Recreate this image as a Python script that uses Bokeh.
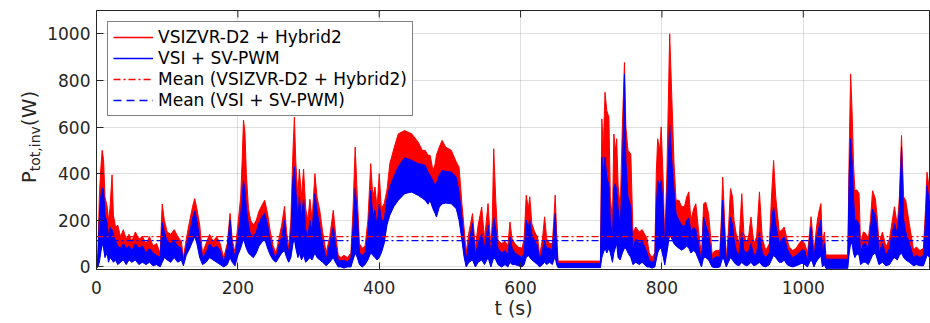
from bokeh.plotting import figure
from bokeh.layouts import row
from bokeh.models import (Range1d, FixedTicker, Legend, LegendItem,
                          ColumnDataSource, Div)
from bokeh.embed import file_html
from bokeh.resources import INLINE

# ---- data (envelopes) ----
t = [0, 2, 4, 6, 8, 10, 12, 15, 17, 19,
     22, 24, 27, 30, 34, 38, 42, 46, 50, 55,
     60, 65, 70, 75, 80, 85, 90, 93, 96, 100,
     105, 110, 115, 120, 123, 127, 132, 136, 139, 142,
     146, 150, 155, 160, 165, 170, 175, 180, 185, 189,
     192, 196, 200, 204, 206, 208, 210, 212, 215, 218,
     222, 226, 230, 235, 238, 242, 246, 250, 254, 258,
     262, 266, 269, 272, 275, 278, 280, 282, 285, 287,
     290, 293, 296, 299, 302, 305, 309, 312, 316, 320,
     325, 330, 335, 338, 342, 346, 350, 355, 360, 363,
     366, 369, 372, 376, 380, 384, 388, 391, 394, 397,
     400, 403, 407, 411, 415, 421, 427, 436, 441, 446,
     455, 461, 465, 469, 472, 476, 479, 481, 485, 489,
     494, 502, 509, 513, 517, 520, 523, 527, 532, 536,
     540, 545, 549, 554, 558, 560, 562, 565, 568, 573,
     578, 582, 585, 588, 592, 597, 602, 605, 608, 611,
     613, 616, 620, 624, 627, 631, 634, 637, 641, 645,
     647, 649, 651, 653, 713, 715, 717, 719.5, 722, 725,
     727, 730, 732, 734, 736, 738, 741, 744, 747, 749,
     752, 756, 759, 763, 768, 772, 775, 779, 782, 786,
     790, 792, 794, 797, 799, 802, 804, 807, 809, 811,
     814, 817, 820, 824, 828, 832, 835, 838, 841, 845,
     848, 852, 856, 859, 862, 866, 871, 876, 882, 884,
     886, 888, 891, 894, 897, 900, 902, 905, 909, 913,
     916, 920, 923, 926, 930, 934, 938, 942, 947, 952,
     955, 958, 961, 966, 970, 973, 977, 980, 985, 990,
     994, 998, 1002, 1006, 1009, 1011, 1013, 1015, 1018, 1020,
     1023, 1025, 1027, 1030, 1032, 1063, 1065, 1067, 1069, 1071,
     1073, 1076, 1079, 1081, 1085, 1088, 1092, 1095, 1098, 1102,
     1105, 1107, 1112, 1117, 1122, 1126, 1129, 1133, 1136, 1139,
     1142, 1145, 1150, 1156, 1160, 1165, 1170, 1173, 1175, 1180]

red_hi = [10, 60, 300, 420, 500, 460, 300, 260, 200, 250,
          395, 220, 170, 180, 130, 160, 120, 140, 110, 150,
          120, 130, 100, 130, 90, 100, 60, 270, 200, 150,
          140, 160, 130, 110, 40, 120, 200, 260, 293, 250,
          180, 60, 100, 140, 110, 130, 100, 40, 100, 230,
          120, 60, 180, 300, 450, 630, 580, 400, 250, 200,
          180, 200, 240, 270, 286, 230, 150, 90, 60, 120,
          180, 260, 150, 80, 200, 500, 643, 450, 300, 420,
          300, 420, 250, 200, 290, 200, 400, 300, 240, 150,
          60, 130, 243, 150, 50, 40, 50, 40, 60, 250,
          514, 300, 100, 80, 90, 200, 443, 300, 343, 250,
          400, 250, 272, 330, 443, 510, 571, 585, 578, 571,
          536, 500, 500, 479, 479, 414, 440, 480, 514, 543,
          514, 500, 450, 428, 272, 171, 60, 150, 229, 80,
          180, 257, 120, 272, 80, 200, 507, 280, 115, 100,
          110, 90, 193, 120, 100, 85, 80, 120, 308, 250,
          301, 185, 150, 128, 50, 120, 215, 120, 101, 100,
          200, 308, 150, 25, 25, 635, 500, 749, 670, 642,
          300, 200, 570, 500, 550, 350, 250, 600, 877, 600,
          500, 484, 150, 171, 150, 160, 144, 120, 60, 40,
          60, 400, 550, 500, 600, 350, 100, 400, 700, 1000,
          728, 450, 286, 286, 257, 260, 300, 322, 200, 250,
          271, 150, 45, 271, 278, 229, 57, 71, 71, 200,
          386, 250, 30, 150, 336, 300, 200, 143, 100, 314,
          143, 100, 140, 214, 100, 130, 322, 120, 71, 100,
          300, 457, 300, 150, 160, 171, 120, 86, 71, 80,
          100, 115, 100, 60, 150, 215, 150, 60, 150, 200,
          250, 272, 100, 150, 51, 51, 500, 828, 671, 450,
          327, 330, 314, 100, 150, 145, 120, 200, 327, 293,
          200, 100, 150, 86, 120, 200, 258, 180, 300, 564,
          300, 285, 186, 73, 86, 70, 80, 250, 406, 300]

blue_hi = [5, 40, 200, 300, 340, 330, 220, 190, 120, 170,
           160, 140, 110, 90, 80, 100, 80, 90, 70, 100,
           80, 90, 60, 80, 60, 50, 40, 190, 150, 110,
           100, 110, 90, 80, 20, 90, 150, 210, 240, 200,
           120, 40, 60, 100, 80, 90, 70, 20, 80, 200,
           90, 40, 130, 220, 300, 370, 330, 250, 180, 140,
           130, 150, 190, 220, 229, 180, 110, 60, 40, 90,
           130, 200, 100, 60, 140, 380, 430, 330, 200, 300,
           220, 290, 160, 130, 200, 150, 314, 240, 170, 100,
           30, 100, 171, 100, 30, 25, 30, 20, 40, 170,
           336, 220, 60, 50, 60, 140, 328, 220, 243, 170,
           270, 200, 200, 290, 343, 390, 430, 468, 463, 457,
           443, 440, 436, 407, 393, 370, 350, 360, 393, 414,
           410, 407, 386, 321, 214, 115, 30, 100, 186, 50,
           100, 143, 80, 180, 50, 140, 214, 160, 80, 60,
           70, 50, 129, 80, 60, 50, 40, 60, 201, 170,
           200, 140, 110, 90, 30, 70, 115, 80, 80, 70,
           150, 229, 100, 15, 15, 471, 400, 471, 384, 350,
           200, 120, 340, 357, 330, 250, 170, 400, 828, 450,
           300, 257, 80, 120, 100, 110, 90, 60, 30, 20,
           30, 250, 370, 350, 372, 250, 60, 300, 450, 607,
           450, 330, 229, 200, 180, 172, 200, 210, 150, 170,
           160, 90, 20, 214, 180, 140, 30, 43, 43, 150,
           286, 180, 10, 100, 214, 180, 120, 70, 50, 150,
           70, 60, 70, 100, 50, 60, 150, 60, 40, 60,
           200, 257, 180, 100, 120, 129, 80, 60, 40, 50,
           60, 73, 70, 20, 120, 172, 100, 30, 120, 140,
           180, 201, 60, 100, 33, 33, 400, 550, 450, 300,
           200, 200, 180, 60, 100, 100, 80, 160, 248, 220,
           150, 60, 100, 50, 80, 150, 186, 140, 250, 514,
           200, 150, 100, 40, 50, 40, 50, 200, 350, 250]

low = [-5, 0, 20, 60, 100, 80, 40, 60, 20, 40,
       30, 20, 30, 10, 20, 30, 10, 30, 20, 30,
       10, 20, 10, 20, 5, 10, 0, 20, 40, 30,
       20, 40, 20, 30, 5, 50, 80, 110, 130, 100,
       40, 10, 20, 40, 30, 20, 10, 0, 10, 40,
       20, 5, 50, 80, 100, 120, 100, 80, 60, 50,
       40, 60, 90, 110, 120, 80, 50, 30, 20, 40,
       60, 70, 40, 20, 40, 100, 120, 80, 40, 60,
       30, 50, 20, 30, 40, 30, 60, 40, 30, 20,
       5, 20, 40, 20, 0, 0, -5, 0, 0, 30,
       60, 40, 10, 0, 10, 30, 60, 50, 40, 30,
       40, 60, 100, 180, 222, 260, 286, 314, 318, 321,
       307, 295, 286, 269, 285, 250, 230, 214, 257, 270,
       274, 271, 250, 200, 115, 44, 0, 20, 30, 0,
       20, 30, 10, 40, 0, 20, 40, 30, 10, 0,
       10, 0, 20, 10, 10, 5, 0, 10, 40, 50,
       40, 30, 20, 10, 0, 10, 20, 10, 20, 10,
       30, 40, 10, -3, -3, 40, 60, 80, 60, 80,
       60, 20, 60, 80, 100, 40, 30, 60, 80, 80,
       60, 40, 10, 20, 10, 20, 10, 0, 0, -5,
       0, 30, 60, 80, 80, 40, 8, 60, 100, 140,
       120, 100, 90, 80, 72, 80, 90, 80, 60, 70,
       60, 30, 0, 40, 40, 30, 0, -3, 0, 20,
       40, 30, 0, 20, 40, 30, 20, 10, 5, 20,
       10, 5, 10, 20, 5, 10, 20, 5, 0, 10,
       30, 50, 40, 20, 20, 30, 10, 5, 0, 5,
       10, 16, 10, 0, 20, 30, 20, 0, 20, 30,
       40, 50, 0, 10, -6, -6, 60, 100, 100, 60,
       40, 57, 50, 10, 20, 20, 10, 30, 50, 60,
       30, 10, 20, 5, 10, 30, 40, 30, 50, 60,
       40, 30, 20, 5, 10, 5, 5, 30, 50, 40]

mean_red = 130
mean_blue = 113

x_ticks = [0, 200, 400, 600, 800, 1000]
y_ticks = [0, 200, 400, 600, 800, 1000]

x_title = "t (s)"
y_title_main, y_title_sub, y_title_unit = "P", "tot,inv", "(W)"

labels = ["VSIZVR-D2 + Hybrid2", "VSI + SV-PWM",
          "Mean (VSIZVR-D2 + Hybrid2)", "Mean (VSI + SV-PWM)"]

RED = "#ff0000"
BLUE = "#0000ff"
DARK = "#262626"
FONT = "DejaVu Sans"
NAN = float("nan")
LEFT_W = 44
X_MIN, X_MAX = 0, 1180
Y_MIN, Y_MAX = -11, 1100

# ---- y-axis title (vertical, with real subscript) as rotated HTML text ----
ylab_html = (
    '<div style="position:relative;width:%dpx;height:323px;overflow:visible;">'
    '<div style="position:absolute;left:41px;top:137px;transform-origin:0 0;'
    'transform:rotate(-90deg) translate(-50%%,-100%%);white-space:nowrap;'
    "font-family:'DejaVu Sans';font-size:20px;line-height:20px;color:%s;\">"
    '%s<span style="font-size:14px;position:relative;top:4px;">%s</span>%s'
    '</div></div>' % (LEFT_W, DARK, y_title_main, y_title_sub, y_title_unit))
ylab = Div(text=ylab_html, width=LEFT_W, height=323, margin=0,
           styles={"overflow": "visible"})

# ---- main plot ----
p = figure(width=930 - LEFT_W, height=323, output_backend="svg", toolbar_location=None,
           x_range=Range1d(X_MIN, X_MAX), y_range=Range1d(Y_MIN, Y_MAX),
           min_border_left=96 - LEFT_W, min_border_right=0, min_border_top=10,
           min_border_bottom=54)
p.outline_line_color = DARK
p.background_fill_color = "white"
p.border_fill_color = "white"

src = ColumnDataSource(dict(t=t, red_hi=red_hi, blue_hi=blue_hi, lo=low))

p.varea(x="t", y1="lo", y2="red_hi", source=src, fill_color=RED)
p.line("t", "red_hi", source=src, line_color=RED, line_width=1)
p.varea(x="t", y1="lo", y2="blue_hi", source=src, fill_color=BLUE)
p.line("t", "blue_hi", source=src, line_color=BLUE, line_width=1)
p.line("t", "lo", source=src, line_color=BLUE, line_width=1)

# mean lines across the whole time span
p.line(x=[t[0], t[-1]], y=[mean_red, mean_red], line_color=RED,
       line_width=1.3, line_dash="7 3 2 3")
p.line(x=[t[0], t[-1]], y=[mean_blue, mean_blue], line_color=BLUE,
       line_width=1.3, line_dash="7 3 2 3")

# inward tick marks on the top edge of the box
tick_len = (Y_MAX - Y_MIN) * 7 / 259
p.segment(x0=x_ticks, y0=[Y_MAX] * len(x_ticks), x1=x_ticks,
          y1=[Y_MAX - tick_len] * len(x_ticks), line_color=DARK, line_width=1)

# legend proxies (not visible in the plot area)
lg_red = p.line(x=[NAN, NAN], y=[NAN, NAN], line_color=RED, line_width=1.5)
lg_blue = p.line(x=[NAN, NAN], y=[NAN, NAN], line_color=BLUE, line_width=1.5)
lg_mred = p.line(x=[NAN, NAN], y=[NAN, NAN], line_color=RED, line_width=1.3,
                 line_dash="7 3 2 3")
lg_mblue = p.line(x=[NAN, NAN], y=[NAN, NAN], line_color=BLUE, line_width=1.3,
                  line_dash="8 5")

# axes
for ax in (p.xaxis[0], p.yaxis[0]):
    ax.axis_line_color = DARK
    ax.major_tick_line_color = DARK
    ax.major_tick_in = 7
    ax.major_tick_out = 0
    ax.minor_tick_line_color = None
    ax.major_label_text_font = FONT
    ax.major_label_text_font_size = "17px"
    ax.major_label_text_color = DARK
p.xaxis[0].ticker = FixedTicker(ticks=x_ticks)
p.yaxis[0].ticker = FixedTicker(ticks=y_ticks)
p.xaxis[0].major_label_standoff = 11
p.yaxis[0].major_label_standoff = 6
p.xaxis[0].axis_label = x_title
p.xaxis[0].axis_label_text_font = FONT
p.xaxis[0].axis_label_text_font_size = "19px"
p.xaxis[0].axis_label_text_font_style = "normal"
p.xaxis[0].axis_label_text_color = DARK
p.xaxis[0].axis_label_standoff = 0

p.xgrid.ticker = FixedTicker(ticks=x_ticks)
p.ygrid.ticker = FixedTicker(ticks=y_ticks)
p.grid.grid_line_color = DARK
p.grid.grid_line_alpha = 0.15

legend = Legend(items=[LegendItem(label=labels[0], renderers=[lg_red]),
                       LegendItem(label=labels[1], renderers=[lg_blue]),
                       LegendItem(label=labels[2], renderers=[lg_mred]),
                       LegendItem(label=labels[3], renderers=[lg_mblue])],
                location="top_left", margin=11, padding=5, spacing=1,
                glyph_width=40, glyph_height=20, label_height=20,
                label_standoff=5, label_text_font=FONT,
                label_text_font_size="17px", label_text_color="black",
                border_line_color="black", border_line_width=1,
                background_fill_color="white", background_fill_alpha=1)
p.add_layout(legend)

layout = row(ylab, p, spacing=0)
open("out.html", "w").write(file_html(layout, INLINE))
